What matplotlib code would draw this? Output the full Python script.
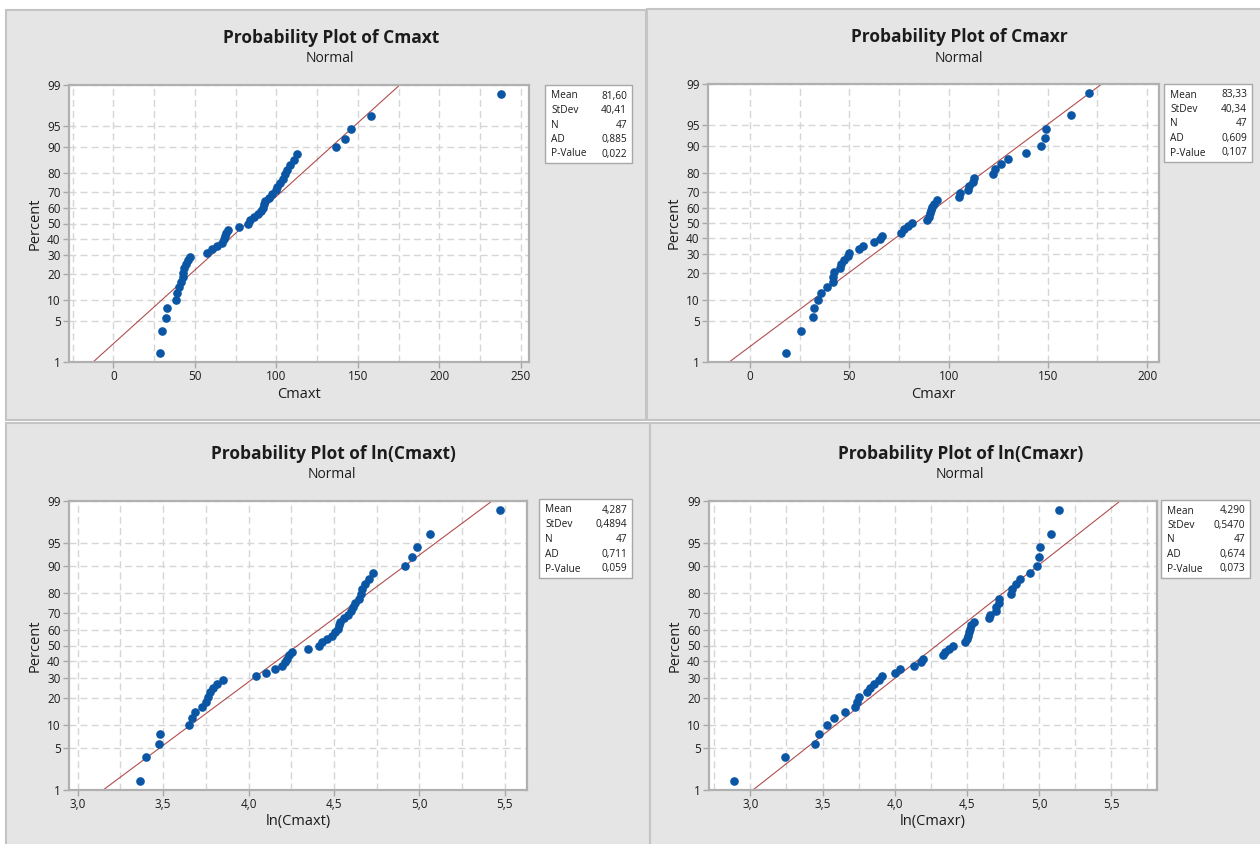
import numpy as np
import matplotlib.pyplot as plt
from matplotlib.patches import Rectangle
from matplotlib.ticker import NullLocator
from statistics import NormalDist

# sorted sample values (47 each)
cmaxt = [28.9, 29.9, 32.4, 32.6, 38.5, 39.3, 40.0, 41.5, 42.5, 43.0,
         43.5, 44.3, 45.5, 47.0, 57.2, 60.5, 63.7, 66.5, 67.7, 68.4,
         69.0, 70.5, 77.2, 82.5, 84.0, 86.3, 88.8, 90.8, 92.0, 92.5,
         93.0, 95.5, 97.5, 99.5, 100.5, 102.0, 104.2, 105.2, 106.3, 108.2,
         110.5, 112.8, 136.4, 141.8, 146.0, 157.7, 237.5]
cmaxr = [17.9, 25.6, 31.5, 32.2, 34.2, 35.9, 38.7, 41.6, 42.0, 42.5,
         45.1, 46.0, 47.2, 49.1, 50.0, 54.8, 56.8, 62.3, 65.6, 66.4,
         76.2, 77.5, 79.4, 81.6, 89.1, 90.0, 90.6, 91.2, 91.7, 92.8,
         94.4, 105.2, 105.5, 110.0, 110.5, 112.3, 112.7, 122.3, 123.3, 126.2,
         129.8, 139.1, 146.4, 148.4, 149.2, 161.6, 170.5]

# fitted normal parameters shown in the legend boxes
fit_cmaxt = (81.60, 40.41)
fit_cmaxr = (83.33, 40.34)
fit_ln_cmaxt = (4.287, 0.4894)
fit_ln_cmaxr = (4.290, 0.5470)

stat_names = ["Mean", "StDev", "N", "AD", "P-Value"]
stats_cmaxt = ["81,60", "40,41", "47", "0,885", "0,022"]
stats_cmaxr = ["83,33", "40,34", "47", "0,609", "0,107"]
stats_ln_cmaxt = ["4,287", "0,4894", "47", "0,711", "0,059"]
stats_ln_cmaxr = ["4,290", "0,5470", "47", "0,674", "0,073"]

pct_ticks = [1, 5, 10, 20, 30, 40, 50, 60, 70, 80, 90, 95, 99]
ticks_raw_t = [0, 50, 100, 150, 200, 250]
ticks_raw_r = [0, 50, 100, 150, 200]
ticks_ln = [3.0, 3.5, 4.0, 4.5, 5.0, 5.5]

plt.rcParams['font.family'] = ['Open Sans', 'DejaVu Sans']
W, H = 1260, 844
fig = plt.figure(figsize=(W / 100, H / 100), dpi=100)
fig.patch.set_facecolor('white')

nd = NormalDist()
ppf = np.vectorize(lambda p: nd.inv_cdf(p / 100) if 0 < p < 100 else np.nan, otypes=[float])
cdf = np.vectorize(lambda z: nd.cdf(z) * 100, otypes=[float])

BLUE = '#0b56a4'
RED = '#9e2222'
TXT = '#1c1c1c'


def fx(x):
    return x / W


def fy(y):
    return 1 - y / H


def rect(x0, y0, x1, y1, **kw):
    fig.patches.append(Rectangle((fx(x0), fy(y1)), fx(x1) - fx(x0), fy(y0) - fy(y1),
                                 transform=fig.transFigure, **kw))


def comma(v, dec):
    return f"{v:.{dec}f}".replace('.', ',')


def panel(frame, axbox, xlim, xticks, dec, values, fit, stats, sbox, title, xlabel):
    rect(*frame, facecolor='#e5e5e5', edgecolor='#c4c4c4', lw=1.5, zorder=-5)
    l, t, r, b = axbox
    ax = fig.add_axes([fx(l), fy(b), fx(r) - fx(l), fy(t) - fy(b)])
    ax.set_zorder(3)
    ax.set_yscale('function', functions=(ppf, cdf))

    n = len(values)
    pct = (np.arange(1, n + 1) - 0.3) / (n + 0.4) * 100
    mean, sd = fit
    z_lo, z_hi = ppf([1, 99])
    ax.plot([mean + sd * z_lo, mean + sd * z_hi], [1, 99], color=RED, lw=0.8, alpha=0.8, zorder=2)
    ax.plot(values, pct, 'o', color=BLUE, ms=5.2, mec=BLUE, zorder=3, clip_on=False)

    ax.set_ylim(1, 99)
    ax.set_xlim(*xlim)
    ax.set_yticks(pct_ticks)
    ax.set_yticklabels([str(p) for p in pct_ticks])
    ax.yaxis.set_minor_locator(NullLocator())
    ax.set_xticks(xticks)
    ax.set_xticklabels([comma(v, dec) for v in xticks])
    step = xticks[1] - xticks[0]
    minor = np.arange(xticks[0] - step / 2, xlim[1], step)
    ax.set_xticks(minor[minor > xlim[0]], minor=True)

    ax.set_axisbelow(True)
    ax.grid(True, which='both', color='#d6d6d6', linestyle=(0, (5, 3)), lw=1)
    ax.tick_params(which='major', direction='out', length=4, width=1, color='#a8a8a8',
                   labelsize=8.5, labelcolor=TXT, pad=2)
    ax.tick_params(which='minor', length=0)
    for s in ax.spines.values():
        s.set_color('#b0b0b0')
        s.set_linewidth(1.6)

    cx = (frame[0] + frame[2]) / 2
    fig.text(fx(cx + 5), fy(t - 47), title, ha='center', va='center', fontsize=12.5,
             weight='bold', color=TXT)
    fig.text(fx(cx + 4), fy(t - 26), "Normal", ha='center', va='center', fontsize=10, color=TXT)
    fig.text(fx((l + r) / 2), fy(b + 32), xlabel, ha='center', va='center', fontsize=10.5, color=TXT)
    fig.text(fx(l - 34), fy((t + b) / 2), "Percent", ha='center', va='center', rotation=90,
             fontsize=10.5, color=TXT)

    bx0, by0, bx1, by1 = sbox
    rect(bx0, by0, bx1, by1, facecolor='white', edgecolor='#a8a8a8', lw=1, zorder=-1)
    step_y = (by1 - by0 - 20) / 4
    for i, (name, val) in enumerate(zip(stat_names, stats)):
        yy = by0 + 11 + i * step_y
        fig.text(fx(bx0 + 6), fy(yy), name, ha='left', va='center', fontsize=7.3, color=TXT)
        fig.text(fx(bx1 - 5), fy(yy), val, ha='right', va='center', fontsize=7.3, color=TXT)
    return ax


panel((6, 10, 646, 420), (69, 85, 529, 362), (-27.2, 254.9), ticks_raw_t, 0,
      cmaxt, fit_cmaxt, stats_cmaxt, (545, 85, 632, 163),
      "Probability Plot of Cmaxt", "Cmaxt")
panel((647, 9, 1262, 420), (708, 84, 1159, 362), (-21.2, 206.0), ticks_raw_r, 0,
      cmaxr, fit_cmaxr, stats_cmaxr, (1164, 84, 1252, 162),
      "Probability Plot of Cmaxr", "Cmaxr")
panel((6, 423, 650, 846), (69, 501, 527, 790), (2.949, 5.63), ticks_ln, 1,
      np.log(cmaxt), fit_ln_cmaxt, stats_ln_cmaxt, (539, 499, 632, 578),
      "Probability Plot of ln(Cmaxt)", "ln(Cmaxt)")
panel((650, 423, 1262, 846), (709, 501, 1157, 790), (2.713, 5.818), ticks_ln, 1,
      np.log(cmaxr), fit_ln_cmaxr, stats_ln_cmaxr, (1161, 500, 1250, 578),
      "Probability Plot of ln(Cmaxr)", "ln(Cmaxr)")

fig.savefig('out.png', dpi=100)
